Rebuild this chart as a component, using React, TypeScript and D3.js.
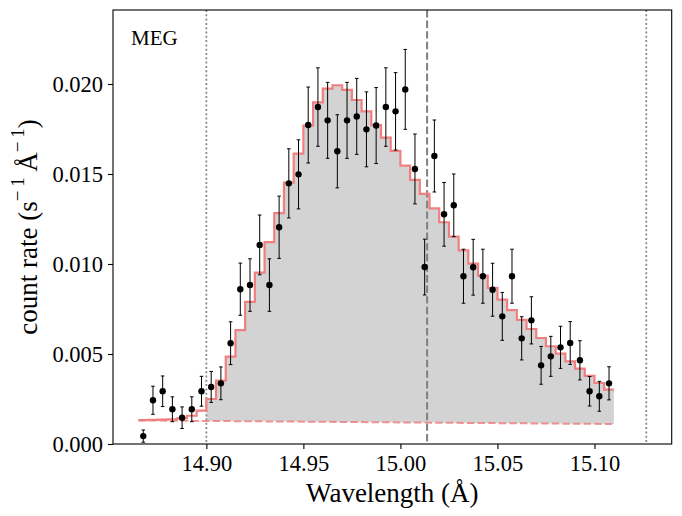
import React, { useEffect, useRef } from "react";
import * as d3 from "d3";

// spectral bins: 49 bins of 0.005 Å starting at 14.865 Å
const BIN_START = 14.865;
const BIN_WIDTH = 0.005;

const rate = [
  0.00044, 0.00243, 0.00293, 0.00193, 0.00146, 0.00193, 0.00293, 0.00317, 0.00337, 0.0056,
  0.0086, 0.00883, 0.01106, 0.00883, 0.01204, 0.01448, 0.01498, 0.01772, 0.01872, 0.01798,
  0.01626, 0.01798, 0.0182, 0.01748, 0.01769, 0.01872, 0.01848, 0.0197, 0.01528, 0.00983,
  0.016, 0.01276, 0.01326, 0.00932, 0.00982, 0.00932, 0.00857, 0.00709, 0.00932, 0.00587,
  0.00687, 0.00437, 0.00487, 0.00537, 0.00561, 0.00465, 0.00293, 0.00265, 0.00337,
];

const rateErr = [
  0.00034, 0.00078, 0.00085, 0.00069, 0.0006, 0.00069, 0.00083, 0.00086, 0.00091, 0.00119,
  0.00145, 0.00146, 0.00166, 0.00146, 0.00173, 0.00192, 0.00192, 0.00211, 0.00218, 0.00211,
  0.00203, 0.00211, 0.00211, 0.00208, 0.00211, 0.00218, 0.00215, 0.00222, 0.00194, 0.00155,
  0.002, 0.00177, 0.00174, 0.0015, 0.00155, 0.0015, 0.00147, 0.00133, 0.0015, 0.0012,
  0.00131, 0.00105, 0.00111, 0.00117, 0.00119, 0.00109, 0.00082, 0.00083, 0.00092,
];

const model = [
  0.00133, 0.00134, 0.00135, 0.00137, 0.00143, 0.00157, 0.00185, 0.0025, 0.00352, 0.00485,
  0.00633, 0.0079, 0.00952, 0.01121, 0.01283, 0.01452, 0.01613, 0.01769, 0.01898, 0.01974,
  0.01993, 0.01967, 0.01911, 0.01848, 0.01772, 0.01702, 0.01628, 0.01546, 0.01467, 0.01389,
  0.01309, 0.01232, 0.01152, 0.01076, 0.01002, 0.00935, 0.00867, 0.00802, 0.00744, 0.00689,
  0.00639, 0.00589, 0.00543, 0.00502, 0.00459, 0.00419, 0.00378, 0.00339, 0.00302,
];

// linear continuum at the first and last bin edge
const background = [0.00131, 0.00111];

const fitRange = [14.9, 15.1267]; // dotted lines
const lineCentre = 15.01375; // dashed line
const xTicks = [14.9, 14.95, 15.0, 15.05, 15.1];
const yTicks = [0, 0.005, 0.01, 0.015, 0.02];

const W = 682;
const H = 516;
const margin = { top: 10, right: 10.3, bottom: 72, left: 113 };
const FONT = "'Liberation Serif', 'Times New Roman', serif";

const App = () => {
  const ref = useRef<SVGSVGElement>(null);

  useEffect(() => {
    document.body.style.margin = "0";
    const svg = d3.select(ref.current);
    svg.selectAll("*").remove();

    const x = d3
      .scaleLinear()
      .domain([14.8519, 15.1398])
      .range([margin.left, W - margin.right]);
    const y = d3
      .scaleLinear()
      .domain([0, 0.02411])
      .range([H - margin.bottom, margin.top]);

    const n = rate.length;
    const edges = d3.range(n + 1).map((i) => BIN_START + i * BIN_WIDTH);
    const centres = d3.range(n).map((i) => BIN_START + (i + 0.5) * BIN_WIDTH);
    const bg = d3
      .scaleLinear()
      .domain([edges[0], edges[n]])
      .range(background);

    // step points: value of bin i from edge i, repeat last value at end
    const steps = edges.map((e, i) => ({ x: e, y: model[Math.min(i, n - 1)] }));

    // grey fill between continuum and model, inside the fit range
    const fillSteps = steps.filter((s) => s.x >= fitRange[0] - 1e-9);
    const area = d3
      .area<{ x: number; y: number }>()
      .curve(d3.curveStepAfter)
      .x((d) => x(d.x))
      .y0((d) => y(bg(d.x)))
      .y1((d) => y(d.y));
    svg
      .append("path")
      .attr("d", area(fillSteps))
      .attr("fill", "#d3d3d3");

    // vertical reference lines
    fitRange.forEach((v) => {
      svg
        .append("line")
        .attr("x1", x(v))
        .attr("x2", x(v))
        .attr("y1", margin.top)
        .attr("y2", H - margin.bottom)
        .attr("stroke", "#8a8a8a")
        .attr("stroke-width", 1.8)
        .attr("stroke-dasharray", "2,2.3");
    });
    svg
      .append("line")
      .attr("x1", x(lineCentre))
      .attr("x2", x(lineCentre))
      .attr("y1", margin.top)
      .attr("y2", H - margin.bottom)
      .attr("stroke", "#808080")
      .attr("stroke-width", 2)
      .attr("stroke-dasharray", "7.4,3.2");

    // model histogram
    const stepLine = d3
      .line<{ x: number; y: number }>()
      .curve(d3.curveStepAfter)
      .x((d) => x(d.x))
      .y((d) => y(d.y));
    svg
      .append("path")
      .attr("d", stepLine(steps))
      .attr("fill", "none")
      .attr("stroke", "#f08080")
      .attr("stroke-width", 2.2);

    // continuum
    svg
      .append("line")
      .attr("x1", x(edges[0]))
      .attr("x2", x(edges[n]))
      .attr("y1", y(background[0]))
      .attr("y2", y(background[1]))
      .attr("stroke", "#f08080")
      .attr("stroke-opacity", 0.85)
      .attr("stroke-width", 2)
      .attr("stroke-dasharray", "7.4,3.2");

    // data with error bars
    const pts = svg.append("g");
    centres.forEach((c, i) => {
      const cx = x(c);
      const lo = y(rate[i] - rateErr[i]);
      const hi = y(rate[i] + rateErr[i]);
      pts
        .append("line")
        .attr("x1", cx)
        .attr("x2", cx)
        .attr("y1", lo)
        .attr("y2", hi)
        .attr("stroke", "#000")
        .attr("stroke-width", 1);
      [lo, hi].forEach((yy) => {
        pts
          .append("line")
          .attr("x1", cx - 1.8)
          .attr("x2", cx + 1.8)
          .attr("y1", yy)
          .attr("y2", yy)
          .attr("stroke", "#000")
          .attr("stroke-width", 1);
      });
      pts
        .append("circle")
        .attr("cx", cx)
        .attr("cy", y(rate[i]))
        .attr("r", 3.2)
        .attr("fill", "#000");
    });

    // frame
    svg
      .append("rect")
      .attr("x", margin.left)
      .attr("y", margin.top)
      .attr("width", W - margin.left - margin.right)
      .attr("height", H - margin.top - margin.bottom)
      .attr("fill", "none")
      .attr("stroke", "#000")
      .attr("stroke-width", 1.1);

    // axes
    const xAxis = d3
      .axisBottom(x)
      .tickValues(xTicks)
      .tickSize(5)
      .tickPadding(6)
      .tickFormat(d3.format(".2f"));
    const gx = svg
      .append("g")
      .attr("transform", `translate(0,${H - margin.bottom})`)
      .call(xAxis);
    const yAxis = d3
      .axisLeft(y)
      .tickValues(yTicks)
      .tickSize(5)
      .tickPadding(5)
      .tickFormat(d3.format(".3f"));
    const gy = svg
      .append("g")
      .attr("transform", `translate(${margin.left},0)`)
      .call(yAxis);
    [gx, gy].forEach((g) => {
      g.select(".domain").remove();
      g.selectAll(".tick line").attr("stroke", "#000").attr("stroke-width", 1.1);
      g.selectAll(".tick text")
        .attr("fill", "#000")
        .style("font-family", FONT)
        .style("font-size", "22.5px");
    });

    // labels
    svg
      .append("text")
      .attr("x", (margin.left + W - margin.right) / 2)
      .attr("y", 502)
      .attr("text-anchor", "middle")
      .style("font-family", FONT)
      .style("font-size", "27px")
      .text("Wavelength (Å)");

    const yl = svg
      .append("text")
      .attr("transform", `translate(37,${(margin.top + H - margin.bottom) / 2}) rotate(-90)`)
      .attr("text-anchor", "middle")
      .style("font-family", FONT)
      .style("font-size", "27px");
    yl.append("tspan").text("count rate (s");
    yl.append("tspan").attr("dy", -13).style("font-size", "19px").text("\u2212\u20091");
    yl.append("tspan").attr("dy", 13).text("\u2009Å");
    yl.append("tspan").attr("dy", -13).style("font-size", "19px").text("\u2212\u20091");
    yl.append("tspan").attr("dy", 13).text(")");

    svg
      .append("text")
      .attr("x", 131)
      .attr("y", 45)
      .style("font-family", FONT)
      .style("font-size", "21px")
      .text("MEG");
  }, []);

  return <svg ref={ref} width={W} height={H} style={{ display: "block", background: "#fff" }} />;
};

export default App;
